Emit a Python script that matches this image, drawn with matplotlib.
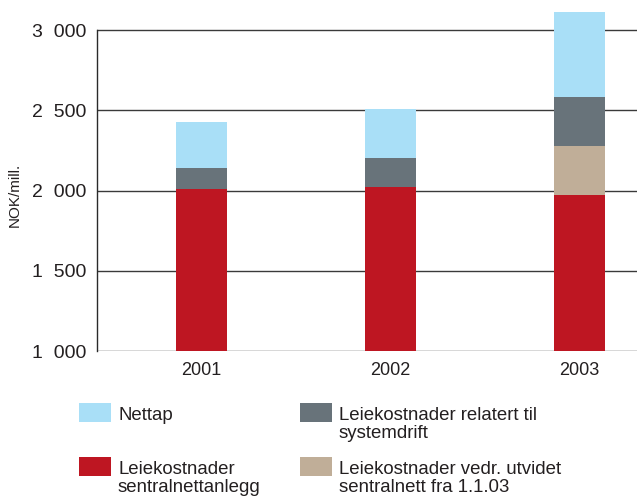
import matplotlib
matplotlib.use("Agg")
import matplotlib.pyplot as plt
from matplotlib.patches import Rectangle
import numpy as np

plt.rcParams['font.family'] = ['Liberation Sans', 'DejaVu Sans']

years = ['2001', '2002', '2003']
sentralnett = [2010, 2020, 1970]
utvidet = [0, 0, 305]
systemdrift = [130, 180, 305]
nettap = [287, 305, 535]
yticks = [1000, 1500, 2000, 2500, 3000]
ytick_labels = ['1\u2007000', '1\u2007500', '2\u2007000', '2\u2007500', '3\u2007000']

labels = {
    'nettap': 'Nettap',
    'systemdrift': 'Leiekostnader relatert til\nsystemdrift',
    'sentralnett': 'Leiekostnader\nsentralnettanlegg',
    'utvidet': 'Leiekostnader vedr. utvidet\nsentralnett fra 1.1.03',
}
colors = {
    'sentralnett': '#BE1622',
    'utvidet': '#C0AE98',
    'systemdrift': '#68737A',
    'nettap': '#A9DFF7',
}

W, H = 637, 498
y_top = 3130
px_per_unit = (351 - 30) / 2000.0
top_px = 351 - (y_top - 1000) * px_per_unit
fig = plt.figure(figsize=(W / 100, H / 100), dpi=100)
ax = fig.add_axes([97 / W, 1 - 351 / H, 1 - 97 / W, (351 - top_px) / H])

x = np.arange(len(years))
bw = 0.27
bottom = np.zeros(len(years))
for key, vals in [('sentralnett', sentralnett), ('utvidet', utvidet),
                  ('systemdrift', systemdrift), ('nettap', nettap)]:
    v = np.array(vals, dtype=float)
    ax.bar(x, v, bw, bottom=bottom, color=colors[key], zorder=3, linewidth=0)
    bottom += v

ax.set_xlim(-0.553, 2.304)
ax.set_ylim(1000, y_top)
ax.set_yticks(yticks)
ax.set_yticklabels(ytick_labels, fontsize=14, color='#231f20')
ax.set_xticks(x)
ax.set_xticklabels(years, fontsize=13, color='#231f20')
ax.tick_params(axis='y', length=0, pad=8)
ax.tick_params(axis='x', length=0, pad=8)
for yv in yticks:
    ax.axhline(yv, color='#3a3a3a', linewidth=1.0, zorder=1)
for s in ['top', 'right', 'bottom']:
    ax.spines[s].set_visible(False)
ax.spines['left'].set_bounds(1000, 3000)
ax.spines['left'].set_color('#2a2a2a')
ax.spines['left'].set_linewidth(1.0)
ax.spines['left'].set_zorder(2)

fig.text(15 / W, 1 - 195 / H, 'NOK/mill.', rotation=90, ha='center',
         va='center', fontsize=11, color='#231f20')

# legend
legend_items = [
    ('nettap', 79, 403),
    ('systemdrift', 300, 403),
    ('sentralnett', 79, 457),
    ('utvidet', 300, 457),
]
for key, px, py in legend_items:
    fig.add_artist(Rectangle((px / W, 1 - (py + 19) / H), 32 / W, 19 / H,
                             transform=fig.transFigure, color=colors[key],
                             linewidth=0))
    fig.text((px + 39) / W, 1 - (py + 4) / H, labels[key], ha='left', va='top',
             fontsize=13.4, color='#231f20', linespacing=1.05)

fig.savefig('out.png', dpi=100)
